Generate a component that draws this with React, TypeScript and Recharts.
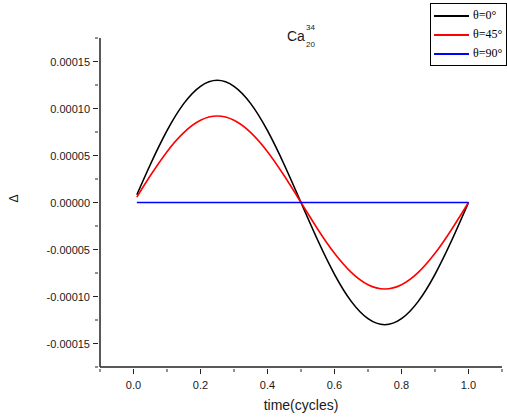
import React from 'react'
import { LineChart, Line, XAxis, YAxis, Legend } from 'recharts'

const times = [0.01, 0.05, 0.1, 0.15, 0.2, 0.25, 0.3, 0.35, 0.4, 0.45, 0.5, 0.55, 0.6, 0.65, 0.7, 0.75, 0.8, 0.85, 0.9, 0.95, 1.0]
const theta0 = [
  0.0000082, 0.0000402, 0.0000764, 0.0001052, 0.0001236, 0.00013, 0.0001236, 0.0001052, 0.0000764, 0.0000402, 0,
  -0.0000402, -0.0000764, -0.0001052, -0.0001236, -0.00013, -0.0001236, -0.0001052, -0.0000764, -0.0000402, 0,
]
const theta45 = [
  0.0000058, 0.0000284, 0.0000541, 0.0000744, 0.0000875, 0.000092, 0.0000875, 0.0000744, 0.0000541, 0.0000284, 0,
  -0.0000284, -0.0000541, -0.0000744, -0.0000875, -0.000092, -0.0000875, -0.0000744, -0.0000541, -0.0000284, 0,
]
const theta90 = [0, 0, 0, 0, 0, 0, 0, 0, 0, 0, 0, 0, 0, 0, 0, 0, 0, 0, 0, 0, 0]

const xTicks = [-0.1, 0, 0.1, 0.2, 0.3, 0.4, 0.5, 0.6, 0.7, 0.8, 0.9, 1.0, 1.1]
const yTicks = [
  -0.000175, -0.00015, -0.000125, -0.0001, -0.000075, -0.00005, -0.000025, 0,
  0.000025, 0.00005, 0.000075, 0.0001, 0.000125, 0.00015, 0.000175,
]

const series = [
  { key: 'theta0', name: 'θ=0°', color: '#000000' },
  { key: 'theta45', name: 'θ=45°', color: '#ff0000' },
  { key: 'theta90', name: 'θ=90°', color: '#0000ff' },
]

const data = times.map((t, i) => ({ t, theta0: theta0[i], theta45: theta45[i], theta90: theta90[i] }))

const font = 'Arial, "Liberation Sans", sans-serif'
const axisColor = '#222'
const textColor = '#1a1a1a'

const XTick = (props: any) => {
  const { x, y, payload } = props
  const v = payload.value
  const major = v >= 0 && v <= 1 && Math.round(v * 10) % 2 === 0
  return (
    <g>
      <line x1={x} y1={y} x2={x} y2={y + (major ? 5 : 3)} stroke={axisColor} strokeWidth={1} />
      {major && (
        <text x={x} y={y + 20} textAnchor="middle" fontSize={11} fontFamily={font} fill={textColor}>
          {v.toFixed(1)}
        </text>
      )}
    </g>
  )
}

const YTick = (props: any) => {
  const { x, y, payload } = props
  const v = payload.value
  const major = Math.round(v / 0.000025) % 2 === 0 && Math.abs(v) < 0.00017
  return (
    <g>
      <line x1={x} y1={y} x2={x - (major ? 5 : 3)} y2={y} stroke={axisColor} strokeWidth={1} />
      {major && (
        <text x={x - 8} y={y + 4} textAnchor="end" fontSize={11} fontFamily={font} fill={textColor}>
          {v.toFixed(5)}
        </text>
      )}
    </g>
  )
}

const LegendBox = () => (
  <div style={{ border: '1px solid #000', background: '#fff', padding: '2px 0', boxSizing: 'border-box' }}>
    {series.map((s) => (
      <div key={s.key} style={{ display: 'flex', alignItems: 'center', height: 19 }}>
        <div style={{ width: 35, height: 2, background: s.color, marginLeft: 3, marginRight: 4 }} />
        <span style={{ fontFamily: '"Liberation Serif", "Times New Roman", serif', fontSize: 12, color: '#000' }}>
          {s.name}
        </span>
      </div>
    ))}
  </div>
)

export default function App() {
  return (
    <div style={{ position: 'absolute', left: 0, top: 0, width: 507, height: 418, background: '#fff' }}>
      <LineChart width={507} height={418} data={data} margin={{ top: 38, right: 5, bottom: 0, left: 0 }}>
        <XAxis
          dataKey="t"
          type="number"
          domain={[-0.1, 1.1]}
          ticks={xTicks}
          interval={0}
          allowDataOverflow
          height={51}
          tickSize={0}
          tickLine={false}
          tick={<XTick />}
          axisLine={{ stroke: axisColor, strokeWidth: 1.5 }}
          label={{ value: 'time(cycles)', position: 'insideBottom', offset: 8, fontSize: 14, fontFamily: font, fill: textColor }}
        />
        <YAxis
          type="number"
          domain={[-0.000175, 0.000175]}
          ticks={yTicks}
          interval={0}
          allowDataOverflow
          width={100}
          tickSize={0}
          tickLine={false}
          tick={<YTick />}
          axisLine={{ stroke: axisColor, strokeWidth: 1.5 }}
          label={{ value: 'Δ', angle: -90, position: 'insideLeft', offset: 14, fontSize: 12, fontFamily: font, fill: textColor }}
        />
        <Legend
          layout="horizontal"
          verticalAlign="middle"
          align="center"
          content={<LegendBox />}
          wrapperStyle={{ top: 3, left: 430, width: 77, height: 58 }}
        />
        {series.map((s) => (
          <Line
            key={s.key}
            type="natural"
            dataKey={s.key}
            name={s.name}
            stroke={s.color}
            strokeWidth={1.6}
            dot={false}
            isAnimationActive={false}
          />
        ))}
      </LineChart>
      <div style={{ position: 'absolute', left: 287, top: 29, fontFamily: font, fontSize: 14, lineHeight: '14px', color: textColor }}>Ca</div>
      <div style={{ position: 'absolute', left: 306, top: 24, fontFamily: font, fontSize: 8, lineHeight: '8px', color: textColor }}>34</div>
      <div style={{ position: 'absolute', left: 306, top: 41, fontFamily: font, fontSize: 8, lineHeight: '8px', color: textColor }}>20</div>
    </div>
  )
}
